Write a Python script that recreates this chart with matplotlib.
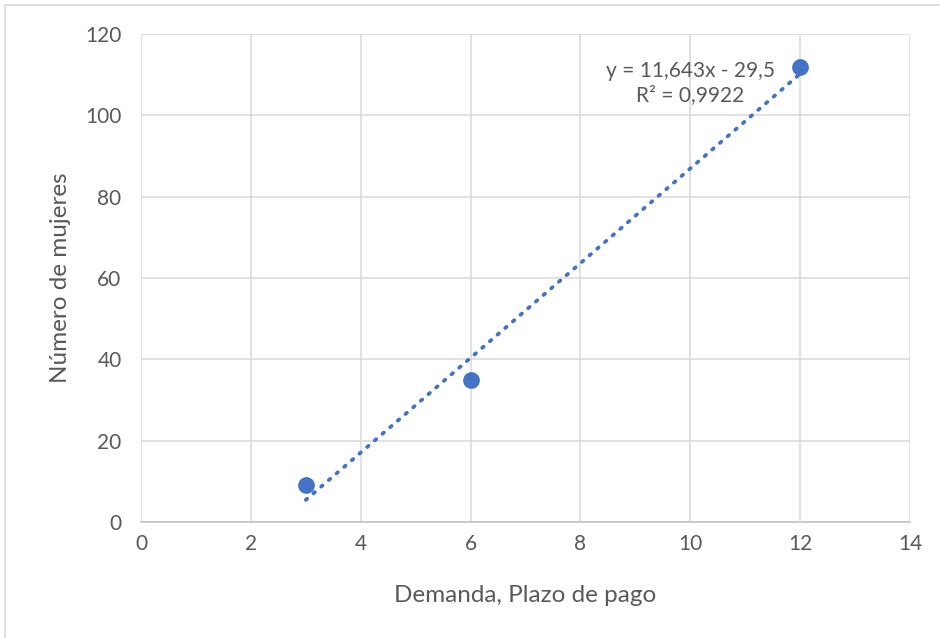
import matplotlib
matplotlib.use("Agg")
import matplotlib.pyplot as plt
import numpy as np
from matplotlib.patches import Rectangle

x_vals = [3, 6, 12]
y_vals = [9, 35, 112]
slope = 11.643
intercept = -29.5
eq_text = "y = 11,643x - 29,5\nR² = 0,9922"
x_ticks = [0, 2, 4, 6, 8, 10, 12, 14]
y_ticks = [0, 20, 40, 60, 80, 100, 120]

plt.rcParams['font.family'] = ['Lato', 'DejaVu Sans']
txt = '#595959'
blue = '#4472C4'

fig = plt.figure(figsize=(9.4, 6.38), dpi=100)
fig.patches.append(Rectangle((5/940, -0.1), 2, 1.1 - 5/638, transform=fig.transFigure,
                             fill=False, edgecolor='#D9D9D9', linewidth=1.2))
ax = fig.add_axes([141/940, 1 - 522/638, (910-141)/940, (522-34)/638])

ax.set_xlim(0, 14)
ax.set_ylim(0, 120)
ax.set_xticks(x_ticks)
ax.set_yticks(y_ticks)
ax.grid(True, color='#D9D9D9', linewidth=1.1)
ax.set_axisbelow(True)
for s in ['left', 'right', 'top']:
    ax.spines[s].set_visible(False)
ax.spines['bottom'].set_color('#BFBFBF')
ax.spines['bottom'].set_linewidth(1.1)
ax.tick_params(axis='both', length=0, labelsize=15, labelcolor=txt)
ax.tick_params(axis='x', pad=9)
ax.tick_params(axis='y', pad=14)

xs = np.array([min(x_vals), max(x_vals)])
ax.plot(xs, slope * xs + intercept, color=blue, linewidth=2.7,
        linestyle=(0, (0.5, 2.2)), dash_capstyle='round', solid_capstyle='round', zorder=3)
ax.scatter(x_vals, y_vals, s=145, color=blue, zorder=4, linewidths=0)

t = ax.text(0, 0, eq_text, ha='center', va='center',
            fontsize=15, color=txt, linespacing=1.25)
t.set_transform(fig.dpi_scale_trans)
t.set_position((690/100, (638-83)/100))

ax.set_xlabel("Demanda, Plazo de pago", fontsize=17.5, color=txt, labelpad=22)
ax.set_ylabel("Número de mujeres", fontsize=17.5, color=txt, labelpad=10)

fig.savefig("out.png", dpi=100)
